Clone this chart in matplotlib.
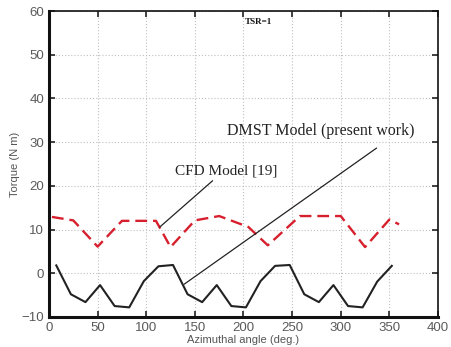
import matplotlib
matplotlib.use("Agg")
import matplotlib.pyplot as plt

# DMST model torque (present work), azimuthal angle in degrees
dmst_angle = [7.5, 22.5, 37.5, 52.5, 67.5, 82.5, 97.5, 112.5,
              127.5, 142.5, 157.5, 172.5, 187.5, 202.5, 217.5, 232.5,
              247.5, 262.5, 277.5, 292.5, 307.5, 322.5, 337.5, 352.5]
dmst_torque = [1.8, -4.8, -6.6, -2.7, -7.5, -7.8, -1.8, 1.6,
               1.9, -4.8, -6.6, -2.7, -7.5, -7.8, -1.8, 1.7,
               1.9, -4.8, -6.6, -2.7, -7.5, -7.8, -1.9, 1.7]

# CFD model torque [19]
cfd_angle = [3, 25, 50, 75, 110, 125, 150, 175, 205, 225, 258, 300, 325, 350, 360]
cfd_torque = [12.9, 12.1, 6.1, 12.0, 12.0, 6.0, 12.1, 13.1, 10.6, 6.4,
              13.1, 13.1, 6.0, 12.3, 11.2]

x_ticks = [0, 50, 100, 150, 200, 250, 300, 350, 400]
y_ticks = [-10, 0, 10, 20, 30, 40, 50, 60]

fig = plt.figure(figsize=(4.52, 3.47), dpi=100)
ax = fig.add_axes([0.1084, 0.0865, 0.8606, 0.8815])

ax.plot(dmst_angle, dmst_torque, color="#222222", lw=1.5, zorder=3)
ax.plot(cfd_angle, cfd_torque, color="#d6202e", lw=1.7, dashes=(5, 2.5), zorder=3)

ax.set_xlim(0, 400)
ax.set_ylim(-10, 60)
ax.set_xticks(x_ticks)
ax.set_yticks(y_ticks)
ax.grid(True, color="#c0c0c0", linestyle=(0, (1, 1.8)), lw=0.8)
ax.tick_params(direction="in", length=4, width=1.2, colors="#222222",
               labelcolor="#5a5a5a", labelsize=9.5, top=True, right=True)
for side in ["left", "bottom"]:
    ax.spines[side].set_linewidth(2.2)
for side in ["top", "right"]:
    ax.spines[side].set_linewidth(1.2)
for sp in ax.spines.values():
    sp.set_color("#111111")

ax.set_xlabel("Azimuthal angle (deg.)", fontsize=8, color="#555555",
              family="Liberation Sans", labelpad=1)
ax.set_ylabel("Torque (N m)", fontsize=8, color="#555555",
              family="Liberation Sans", labelpad=1)
for lab in ax.get_xticklabels() + ax.get_yticklabels():
    lab.set_family("Liberation Sans")

ax.text(215, 57.5, "TSR=1", fontsize=6.5, fontweight="bold",
        family="Liberation Serif", ha="center", va="center", color="#111111")

ax.annotate("CFD Model [19]", xy=(114, 10.6), xytext=(182, 23.3),
            fontsize=11, family="Liberation Serif", color="#222222",
            ha="center", va="center",
            arrowprops=dict(arrowstyle="-", color="#222222", lw=0.9,
                            shrinkA=0, shrinkB=0, relpos=(0.4, 0)))
ax.annotate("DMST Model (present work)", xy=(139, -2.5), xytext=(279, 32.5),
            fontsize=11.5, family="Liberation Serif", color="#222222",
            ha="center", va="center",
            arrowprops=dict(arrowstyle="-", color="#222222", lw=0.9,
                            shrinkA=0, shrinkB=0, relpos=(0.8, -0.55)))

fig.savefig("out.png", dpi=100)
